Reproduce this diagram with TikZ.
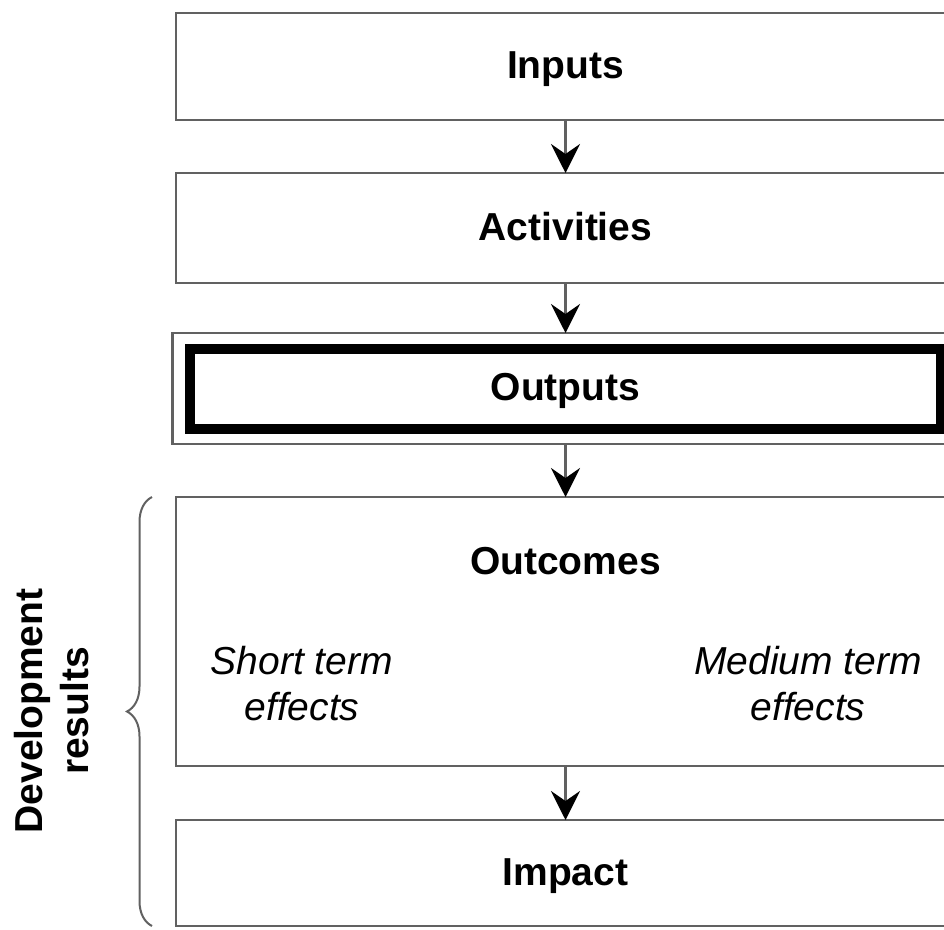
\documentclass[tikz,border=0pt]{standalone}
\usepackage{fontspec}
\setmainfont{Liberation Sans}
\usepackage{tikz}
\usetikzlibrary{arrows.meta,decorations.pathreplacing}
\usetikzlibrary{positioning,calc}
\colorlet{boxline}{black!62}

\begin{document}
\begin{tikzpicture}[x=1pt,y=-1pt,node distance=53pt,
        block/.style={minimum width=779pt,minimum height=107pt,outer sep=0pt,draw=boxline,line width=2.5pt,rectangle,text height=30pt,text depth=6pt,font=\fontsize{39}{46}\selectfont\bfseries},
        title/.style={inner sep=0pt,align=center,font=\fontsize{39}{46}\selectfont\bfseries},
        effect/.style={inner sep=0pt,align=center,font=\fontsize{39}{46}\selectfont\itshape},
        flow/.style={draw=boxline,line width=2.5pt,-{Stealth[black,length=29pt,width=29pt,inset=10pt]}}]
   \useasboundingbox (0,0) rectangle (944,929);
   \node (In) [block] at (565.5,66.5) {Inputs};
   \node (Act) [block,below=of In,minimum height=110pt] {Activities};
   \node (Out) [block,below=50pt of Act,minimum height=111pt,minimum width=786pt] {};
   \node (OutIn) [draw=black,line width=10pt,minimum width=751pt,minimum height=80pt,title,text height=30pt,text depth=6pt] at (Out) {Outputs};
   \node (Outc) [block,below=of Out,minimum height=269pt] {};
   \node (Imp) [block,below=54pt of Outc,minimum height=106pt] {Impact};

   \node (OutcT) [title,below=50pt of Outc.north] {Outcomes};
   \node (Short) [effect] at (302,684) {Short term\\effects};
   \node (Medium) [effect] at (808,684) {Medium term\\effects};

   \draw [flow] (In) -- (Act);
   \draw [flow] (Act) -- (Out);
   \draw [flow] (Out) -- (Outc);
   \draw [flow] (Outc) -- (Imp);

   \coordinate (BrB) at ($(Imp.south west)+(-24,0)$);
   \coordinate (BrT) at ($(Outc.north west)+(-24,0)$);
   \draw [boxline,line width=2pt,decorate,decoration={brace,amplitude=25pt}] (BrB) -- (BrT);
   \node (Dev) [title,rotate=90] at (52,711) {Development\\results};
\end{tikzpicture}
\end{document}
